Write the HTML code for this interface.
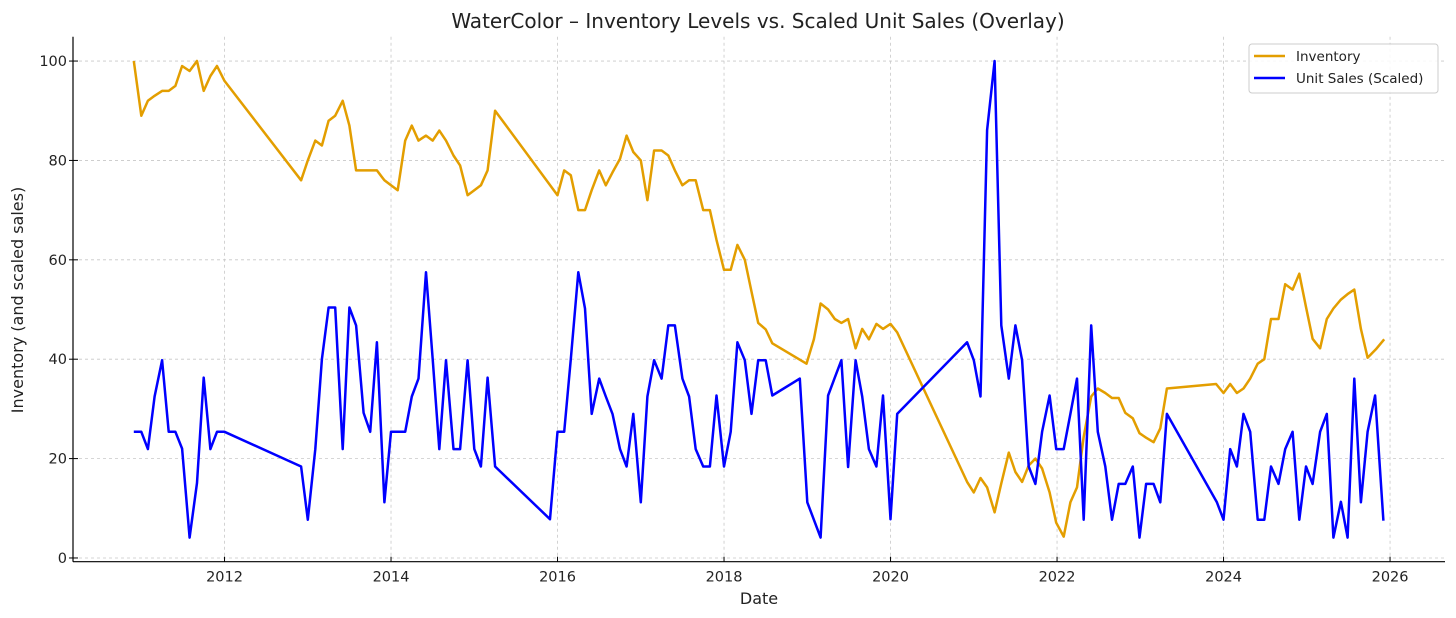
<!DOCTYPE html>
<html><head><meta charset="utf-8"><style>
html,body{margin:0;padding:0;background:#fff;}
svg{display:block;font-family:"DejaVu Sans","Liberation Sans",sans-serif;}
</style></head><body>
<svg id="chart" width="1456" height="618" viewBox="0 0 1456 618" xmlns="http://www.w3.org/2000/svg">
<text x="758" y="28" font-size="20" text-anchor="middle" fill="#222">WaterColor – Inventory Levels vs. Scaled Unit Sales (Overlay)</text>
<g id="grid"></g>
<g id="series"></g>
<g id="axes"></g>
<text x="759" y="604" font-size="16" text-anchor="middle" fill="#222">Date</text>
<text transform="translate(23,300) rotate(-90)" font-size="16" text-anchor="middle" fill="#222">Inventory (and scaled sales)</text>
<g>
<rect x="1249" y="44" width="189" height="49" rx="3" fill="#fff" fill-opacity="0.85" stroke="#ccc"/>
<g>
<line x1="1254" y1="56" x2="1285" y2="56" stroke="#e39e00" stroke-width="2.5"/>
<text x="1296" y="61" font-size="13.5" fill="#222">Inventory</text></g>
<g>
<line x1="1254" y1="78" x2="1285" y2="78" stroke="#0000ff" stroke-width="2.5"/>
<text x="1296" y="83" font-size="13.5" fill="#222">Unit Sales (Scaled)</text></g>
</g>
</svg>
<script>
const invDates=[2010.91,2011.0,2011.08,2011.16,2011.25,2011.33,2011.41,2011.49,2011.58,2011.67,2011.75,2011.83,2011.91,2012.0,2012.92,2013.0,2013.09,2013.17,2013.25,2013.33,2013.42,2013.5,2013.58,2013.67,2013.75,2013.83,2013.92,2014.0,2014.08,2014.17,2014.25,2014.33,2014.42,2014.5,2014.58,2014.66,2014.75,2014.83,2014.92,2015.0,2015.08,2015.16,2015.25,2016.0,2016.08,2016.16,2016.25,2016.33,2016.41,2016.5,2016.58,2016.66,2016.75,2016.83,2016.91,2017.0,2017.08,2017.16,2017.25,2017.33,2017.41,2017.5,2017.58,2017.66,2017.75,2017.83,2017.91,2018.0,2018.08,2018.16,2018.25,2018.33,2018.41,2018.5,2018.58,2018.99,2019.08,2019.16,2019.25,2019.33,2019.41,2019.49,2019.58,2019.66,2019.74,2019.83,2019.91,2020.0,2020.08,2020.92,2021.0,2021.08,2021.16,2021.25,2021.33,2021.42,2021.5,2021.58,2021.66,2021.74,2021.82,2021.91,2021.99,2022.08,2022.16,2022.24,2022.32,2022.41,2022.49,2022.58,2022.66,2022.74,2022.82,2022.91,2022.99,2023.07,2023.16,2023.24,2023.32,2023.91,2024.0,2024.08,2024.16,2024.24,2024.32,2024.41,2024.49,2024.57,2024.66,2024.74,2024.83,2024.91,2024.99,2025.07,2025.16,2025.24,2025.32,2025.41,2025.49,2025.57,2025.65,2025.73,2025.83,2025.93];
const invValues=[100,89,92,93,94,94,95,99,98,100,94,97,99,96,76,80,84,83,88,89,92,87,78,78,78,78,76,75,74,84,87,84,85,84,86,84,81,79,73,74,75,78,90,73,78,77,70,70,74,78,75,77.6,80.3,85,81.7,80,72,82,82,81,78,75,76,76,70,70,64,58,58,63,60,53.6,47.3,46,43.2,39.1,44,51.2,50,48.1,47.3,48.1,42.2,46.1,44,47.1,46.1,47.1,45.4,15.3,13.2,16.1,14.2,9.2,15,21.2,17.3,15.3,18.6,20,18,13.2,7.1,4.3,11.2,14.2,24.4,32.5,34.1,33.2,32.2,32.2,29.2,28.1,25.1,24.2,23.3,26.1,34.1,35,33.2,35,33.2,34.1,36.1,39.1,40,48.1,48.1,55.1,54,57.2,50.5,44.1,42.2,48.1,50.2,52,53.1,54,46.1,40.3,42,44];
const salesDates=[2010.91,2011.0,2011.08,2011.16,2011.25,2011.33,2011.41,2011.49,2011.58,2011.67,2011.75,2011.83,2011.91,2012.0,2012.92,2013.0,2013.09,2013.17,2013.25,2013.33,2013.42,2013.5,2013.58,2013.67,2013.75,2013.83,2013.92,2014.0,2014.08,2014.17,2014.25,2014.33,2014.42,2014.5,2014.58,2014.66,2014.75,2014.83,2014.92,2015.0,2015.08,2015.16,2015.25,2015.91,2016.0,2016.08,2016.16,2016.25,2016.33,2016.41,2016.5,2016.58,2016.66,2016.75,2016.83,2016.91,2017.0,2017.08,2017.16,2017.25,2017.33,2017.41,2017.5,2017.58,2017.66,2017.75,2017.83,2017.91,2018.0,2018.08,2018.16,2018.25,2018.33,2018.41,2018.5,2018.58,2018.91,2019.0,2019.16,2019.25,2019.33,2019.41,2019.49,2019.58,2019.66,2019.74,2019.83,2019.91,2020.0,2020.08,2020.92,2021.0,2021.08,2021.16,2021.25,2021.33,2021.42,2021.5,2021.58,2021.66,2021.74,2021.82,2021.91,2021.99,2022.08,2022.16,2022.24,2022.32,2022.41,2022.49,2022.58,2022.66,2022.74,2022.82,2022.91,2022.99,2023.07,2023.16,2023.24,2023.32,2023.92,2024.0,2024.08,2024.16,2024.24,2024.32,2024.41,2024.49,2024.57,2024.66,2024.74,2024.83,2024.91,2024.99,2025.07,2025.16,2025.24,2025.32,2025.41,2025.49,2025.57,2025.65,2025.73,2025.82,2025.92];
const salesValues=[25.4,25.4,21.9,32.5,39.8,25.4,25.4,22,4.1,15.1,36.3,21.9,25.4,25.4,18.4,7.7,21.9,40,50.4,50.4,21.9,50.4,46.8,29.2,25.4,43.4,11.2,25.4,25.4,25.4,32.5,36.1,57.5,40,21.9,39.8,21.9,21.9,39.8,21.9,18.4,36.3,18.4,7.8,25.4,25.4,40,57.5,50.2,29,36.1,32.5,29,21.9,18.4,29,11.2,32.5,39.8,36.1,46.8,46.8,36.1,32.5,21.9,18.4,18.4,32.7,18.4,25.4,43.4,39.8,29,39.8,39.8,32.7,36.1,11.2,4.1,32.7,36.3,39.8,18.3,39.8,32.5,21.9,18.4,32.7,7.8,29,43.4,39.8,32.5,86.1,100,46.8,36.1,46.8,39.8,18.4,14.9,25.4,32.7,21.9,21.9,29,36.1,7.7,46.8,25.4,18.4,7.7,14.9,14.9,18.4,4.1,14.9,14.9,11.2,29,11.2,7.7,21.9,18.4,29,25.4,7.7,7.7,18.4,14.9,21.9,25.4,7.7,18.4,14.9,25.4,29,4.1,11.3,4.1,36.1,11.2,25.4,32.7,7.5];
const xTicks=[2012,2014,2016,2018,2020,2022,2024,2026];
const yTicks=[0,20,40,60,80,100];

const NS='http://www.w3.org/2000/svg';
const L=73,R=1445,T=36.7,B=561.7;
const xMin=2010.18,xMax=2026.66,yMin=-0.75,yMax=104.9;
function xs(v){return L+(v-xMin)/(xMax-xMin)*(R-L);}
function ys(v){return B-(v-yMin)/(yMax-yMin)*(B-T);}
function mk(tag,attrs,parent){const e=document.createElementNS(NS,tag);for(const k in attrs)e.setAttribute(k,attrs[k]);parent.appendChild(e);return e;}
const grid=document.getElementById('grid'),axes=document.getElementById('axes'),series=document.getElementById('series');
xTicks.forEach(t=>{
  const x=xs(t);
  const g=mk('line',{x1:x,x2:x,y1:T,y2:B,stroke:'#c8c8c8','stroke-width':0.8,'stroke-dasharray':'3,3'},grid);
  
  
  const tk=mk('line',{x1:x,x2:x,y1:B,y2:B-5,stroke:'#000','stroke-width':1},axes);
  
  
  const lb=mk('text',{x:x,y:B+20,'font-size':14.5,'text-anchor':'middle',fill:'#222'},axes);
  lb.textContent=t;
  
  
});
yTicks.forEach(t=>{
  const y=ys(t);
  const g=mk('line',{x1:L,x2:R,y1:y,y2:y,stroke:'#c8c8c8','stroke-width':0.8,'stroke-dasharray':'3,3'},grid);
  
  
  const tk=mk('line',{x1:L-4,x2:L+5,y1:y,y2:y,stroke:'#000','stroke-width':1},axes);
  
  
  const lb=mk('text',{x:L-6,y:y+5,'font-size':14.5,'text-anchor':'end',fill:'#222'},axes);
  lb.textContent=t;
  
  
});
const sp1=mk('line',{x1:L,x2:L,y1:T,y2:B,stroke:'#000','stroke-width':1.2},axes);


const sp2=mk('line',{x1:L,x2:R,y1:B,y2:B,stroke:'#000','stroke-width':1.2},axes);


function pts(d,v){return d.map((t,i)=>xs(t).toFixed(1)+','+ys(v[i]).toFixed(1)).join(' ');}
const inv=mk('polyline',{points:pts(invDates,invValues),fill:'none',stroke:'#e39e00','stroke-width':2.5,'stroke-linejoin':'round'},series);


const sal=mk('polyline',{points:pts(salesDates,salesValues),fill:'none',stroke:'#0000ff','stroke-width':2.5,'stroke-linejoin':'round'},series);


</script>
</body></html>
